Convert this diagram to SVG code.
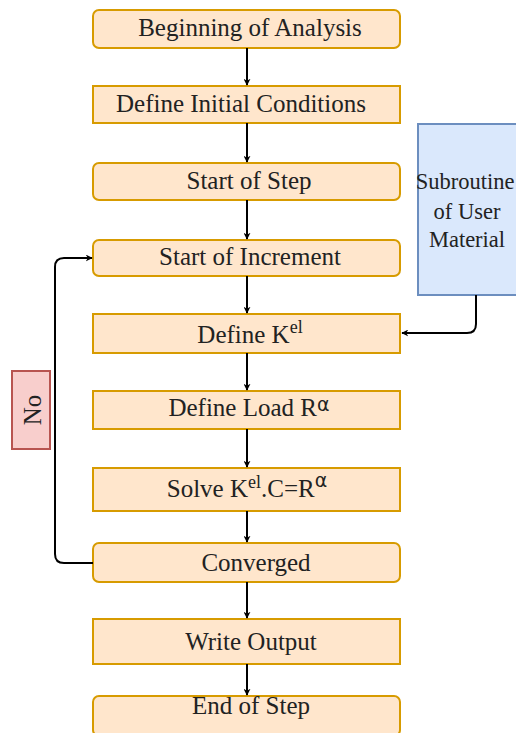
<svg xmlns="http://www.w3.org/2000/svg" width="516" height="733" viewBox="0 0 516 733">
<style>
.n{fill:#ffe6cc;stroke:#d79b00;stroke-width:2}
.t{font-family:"Liberation Serif","Times New Roman",serif;font-size:25px;fill:#222;text-anchor:middle}
.s{font-size:22.5px}
.e{fill:none;stroke:#000;stroke-width:2}
.al{font-family:"DejaVu Sans",sans-serif;font-size:19px}
.el{font-size:18px}
</style>
<defs>
<marker id="a" viewBox="0 0 10 10" refX="9" refY="5" markerWidth="7" markerHeight="7" orient="auto" markerUnits="userSpaceOnUse">
<path d="M0,0 L10,5 L0,10 L3,5 Z" fill="#000"/>
</marker>
</defs>
<rect width="516" height="733" fill="#fff"/>
<g id="n1"><rect class="n" x="93" y="10" width="307" height="38" rx="6"/><text class="t" x="250" y="36">Beginning of Analysis</text></g>
<g id="n2"><rect class="n" x="93" y="86" width="307" height="37"/><text class="t" x="241" y="112">Define Initial Conditions</text></g>
<g id="n3"><rect class="n" x="93" y="163" width="307" height="37" rx="6"/><text class="t" x="249" y="189">Start of Step</text></g>
<g id="n4"><rect class="n" x="93" y="240" width="307" height="36" rx="6"/><text class="t" x="250" y="265">Start of Increment</text></g>
<g id="n5"><rect class="n" x="93" y="314" width="307" height="39"/><text class="t" x="250" y="343">Define K<tspan class="el" dy="-10">el</tspan></text></g>
<g id="n6"><rect class="n" x="93" y="391" width="307" height="38"/><text class="t" x="249" y="416">Define Load R<tspan class="al" dy="-5">α</tspan></text></g>
<g id="n7"><rect class="n" x="93" y="468" width="307" height="43"/><text class="t" x="247" y="497">Solve K<tspan class="el" dy="-9">el</tspan><tspan dy="9">.C=R</tspan><tspan class="al" dy="-10">α</tspan></text></g>
<g id="n8"><rect class="n" x="93" y="543" width="307" height="39" rx="6"/><text class="t" x="256" y="571">Converged</text></g>
<g id="n9"><rect class="n" x="93" y="619" width="307" height="45"/><text class="t" x="251" y="650">Write Output</text></g>
<g id="n10"><rect class="n" x="93" y="696" width="307" height="40" rx="6"/><text class="t" x="251" y="714">End of Step</text></g>
<g id="sub"><rect x="418" y="124" width="110" height="171" fill="#dae8fc" stroke="#6c8ebf" stroke-width="2"/><text class="t s" x="465" y="189">Subroutine</text><text class="t s" x="467" y="219">of User</text><text class="t s" x="467" y="247">Material</text></g>
<g id="no"><rect x="12" y="371" width="38" height="78" fill="#f8cecc" stroke="#b85450" stroke-width="2"/><text class="t" transform="translate(41,410) rotate(-90)">No</text></g>
<g id="edges">
<path class="e" d="M247,48 V85" marker-end="url(#a)"/>
<path class="e" d="M247,123 V162" marker-end="url(#a)"/>
<path class="e" d="M247,200 V239" marker-end="url(#a)"/>
<path class="e" d="M247,276 V313" marker-end="url(#a)"/>
<path class="e" d="M247,353 V390" marker-end="url(#a)"/>
<path class="e" d="M247,429 V467" marker-end="url(#a)"/>
<path class="e" d="M247,511 V542" marker-end="url(#a)"/>
<path class="e" d="M247,582 V618" marker-end="url(#a)"/>
<path class="e" d="M247,664 V695" marker-end="url(#a)"/>
<path class="e" d="M476,295 V324 Q476,333 467,333 H402" marker-end="url(#a)"/>
<path class="e" d="M93,563 H64 Q55,563 55,554 V267 Q55,258 64,258 H92" marker-end="url(#a)"/>
</g>
</svg>
